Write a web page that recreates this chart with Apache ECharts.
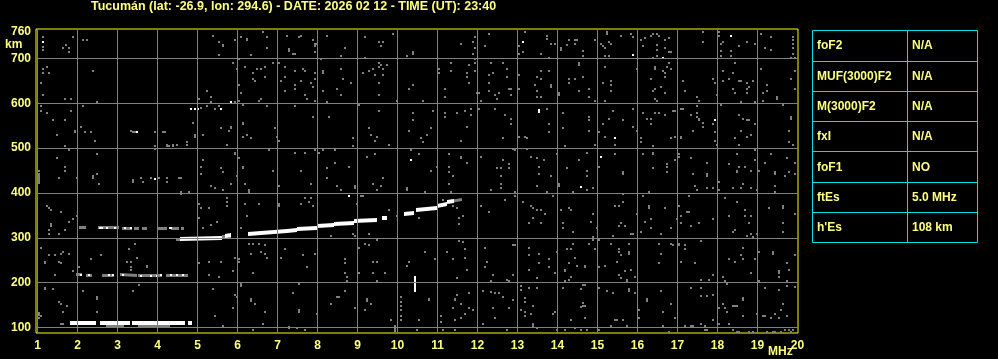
<!DOCTYPE html>
<html><head><meta charset="utf-8">
<script src="https://cdn.jsdelivr.net/npm/echarts@6/dist/echarts.min.js"></script>
<style>html,body{margin:0;padding:0;background:#000;}#c{width:998px;height:359px;}</style>
</head><body><div id="c"></div>
<script>
// ---------- DATA ----------
const titleText = "Tucumán (lat: -26.9, lon: 294.6) - DATE: 2026 02 12 - TIME (UT): 23:40";
const freqTicks = [1,2,3,4,5,6,7,8,9,10,11,12,13,14,15,16,17,18,19,20];
const freqGrid = [1,2,3,4,5,6,7,8,9,10,11,12,13,14,15,16,17,18,19];
const heightTicks = [100,200,300,400,500,600,700,760];
const heightGrid = [100,200,300,400,500,600,700];
const paramNames = ["foF2","MUF(3000)F2","M(3000)F2","fxI","foF1","ftEs","h'Es"];
const paramValues = ["N/A","N/A","N/A","N/A","NO","5.0 MHz","108 km"];

// Es first hop (strong, white) : [f1, km1, f2, km2]
const esStrong = [[1.82,110,2.47,110],[2.57,110,3.32,110],[3.37,110,4.69,110],[4.77,110,4.87,110]];
// F-layer trace (strong, white)
const fStrong = [[4.57,297,5.62,300],[5.69,305,5.84,306],[6.27,309,7.24,315],[7.24,316,7.49,318],[7.49,320,7.99,322],
  [7.99,326,8.40,328],[8.40,331,8.90,333],[8.90,337,9.49,340],[9.62,344,9.74,344],[10.17,353,10.42,356],
  [10.47,361,10.99,366],[10.99,371,11.24,375],[11.24,380,11.42,383]];
// weaker echoes (gray) : multiple hops and traces' edges
const weakTraces = [[2.72,104,3.17,104],[3.52,104,4.30,104],
  [1.97,218,2.12,218],[2.22,217,2.37,217],[2.62,217,2.92,217],[3.07,218,3.49,216],[3.52,215,4.12,215],[4.22,216,4.77,217],
  [2.04,322,2.22,322],[2.52,322,3.04,322],[3.12,321,3.36,321],[3.42,321,3.54,321],[3.62,321,3.74,321],[3.99,321,4.24,321],[4.34,321,4.54,321],[4.59,321,4.67,321],
  [4.47,296,4.57,296],[5.62,302,5.84,303],[7.32,317,7.49,317],[11.30,382,11.60,386]];
// vertical echoes [f, km1, km2]
const vStrong = [[10.44,179,215]];
const vWeak = [[9.94,89,105],[1.04,420,445]];
// isolated white echoes
const whiteDots = [[2.09,217],[2.29,217],[2.79,217],[2.89,216],[3.14,216],[3.59,214],[3.84,215],[3.99,215],[4.09,217],[4.34,217],[4.49,218],[4.64,218],
  [2.57,321],[2.62,321],[2.74,321],[2.94,321],[3.19,321],[3.34,322],[4.30,322],[4.34,322],
  [1.14,737],[3.49,535],[3.94,431],[4.84,588],[4.94,588],[5.00,588],[5.59,588],[5.84,603],
  [13.14,737],[13.54,585],[13.54,581],[10.34,473],[8.79,394],
  [15.89,707],[16.64,701],[18.34,751],[15.44,522],[15.09,481],[17.94,562],[14.59,414]];
// background noise (gray)
const noiseA = [[1.14,747],[1.14,726],[1.14,720],[1.89,747],[2.14,741],[2.24,741],[1.70,729],[1.64,724],[1.79,723],[1.79,714],[5.39,751],[5.54,736],[5.64,730],[5.64,727],[5.54,707],[5.94,741],[6.09,747],[6.24,744],[6.24,741],[6.64,759],[6.74,747],[6.74,723],[6.34,707],[7.24,751],[7.29,722],[7.29,716],[6.04,699],[5.89,690],[5.99,676],[6.19,682],[6.39,668],[6.49,677],[6.59,677],[6.69,680],[6.69,659],[6.39,655],[6.44,650],[6.89,690],[7.04,690],[7.19,682],[7.19,659],[7.09,650],[7.19,628],[6.04,642],[6.09,624],[1.14,677],[1.14,667],[1.24,682],[1.29,668],[1.09,646],[1.14,619],[2.39,673],[1.69,610],[1.84,610],[2.49,602],[5.24,628],[5.34,615],[5.04,610],[5.34,602],[5.24,593],[5.09,590],[5.44,588],[5.54,593],[5.94,602],[6.04,606],[6.14,596],[6.54,606],[6.59,610],[6.74,593],[1.09,593],[1.09,584],[1.24,579],[1.39,562],[1.69,562],[1.84,584],[2.14,593],[1.49,530],[1.94,539],[1.94,535],[2.09,548],[2.19,535],[2.34,535],[2.44,517],[3.34,539],[3.39,535],[3.44,535],[3.94,535],[4.14,535],[4.19,535],[4.89,557],[5.14,530],[4.94,530],[4.94,526],[5.59,544],[5.79,539],[5.84,548],[5.84,544],[6.14,557],[6.14,553],[6.24,530],[6.34,522],[6.14,526],[6.94,544],[6.99,526],[7.04,517],[3.94,504],[3.94,499],[4.24,508],[4.24,504],[4.29,504],[4.39,508],[4.39,504],[4.49,508],[4.74,513],[4.74,508],[5.74,508],[1.69,504],[1.79,495],[1.49,477],[2.49,486],[1.69,459],[1.69,450],[2.39,437],[2.39,433],[2.49,442],[1.04,450],[1.54,433],[1.99,433],[5.14,473],[5.09,459],[5.09,442],[5.59,455],[5.64,446],[5.94,490],[5.94,486],[6.04,477],[6.14,459],[6.14,455],[6.79,495],[6.89,450],[3.39,430],[3.59,433],[3.84,433],[4.04,433],[4.24,433],[4.54,433],[4.59,433],[5.99,437]];
const noiseB = [[7.39,710],[7.44,710],[7.54,747],[7.59,751],[7.89,741],[7.94,732],[7.94,727],[7.99,733],[7.94,714],[8.24,751],[8.59,705],[8.69,723],[8.09,699],[9.19,747],[9.54,736],[9.64,736],[9.59,727],[9.19,701],[9.89,754],[10.24,705],[10.39,714],[10.39,710],[11.59,732],[11.89,736],[11.94,747],[11.94,723],[11.89,710],[11.94,699],[12.19,727],[12.29,754],[13.04,727],[13.14,714],[13.04,710],[13.19,759],[13.59,710],
  [7.44,673],[7.64,677],[7.69,673],[7.94,668],[7.44,642],[7.44,633],[7.59,650],[7.84,646],[7.89,637],[7.69,619],[7.74,610],[7.94,655],[7.94,606],[8.14,673],[8.14,668],[8.14,628],[8.59,677],[8.64,655],[8.49,633],[8.59,619],[8.84,646],[8.24,602],[9.14,668],[9.29,673],[9.39,677],[9.54,690],[9.54,682],[9.59,686],[9.64,677],[9.74,686],[9.44,664],[9.64,664],[9.54,646],[9.54,619],[9.99,606],[10.39,642],[10.29,633],[10.64,606],[11.04,677],[11.04,668],[11.34,690],[11.34,673],[11.19,633],[11.19,615],[11.74,668],[11.79,686],[11.79,646],[11.74,659],[11.94,690],[11.94,673],[11.99,624],[12.04,624],[12.09,606],[12.34,690],[12.39,668],[12.29,664],[12.29,646],[12.29,628],[12.44,619],[12.54,624],[12.49,610],[12.64,690],[12.74,677],[12.74,659],[12.79,633],[12.84,633],[12.84,619],[13.04,664],[13.04,633],[13.49,659],[13.44,642],[13.49,628],[13.59,673],[13.59,655],[13.59,615],[13.49,615],
  [7.44,593],[7.89,570],[8.29,570],[9.04,597],[9.54,584],[9.29,544],[9.34,530],[9.49,526],[9.44,517],[9.79,508],[8.89,522],[8.89,504],[10.39,579],[10.39,562],[10.29,539],[10.84,544],[10.89,584],[10.74,530],[10.59,522],[10.64,513],[11.19,579],[11.19,570],[11.49,579],[11.69,584],[11.84,588],[11.84,575],[11.74,548],[11.59,517],[12.04,588],[12.44,588],[12.69,575],[12.84,566],[12.84,553],[12.64,522],[13.04,526],[13.19,526],[13.24,522],
  [7.44,490],[7.69,490],[7.94,495],[8.04,490],[8.14,495],[8.44,495],[8.44,468],[8.24,455],[8.79,459],[7.59,450],[8.24,433],[9.24,481],[9.44,486],[9.64,433],[10.34,495],[10.54,486],[10.84,450],[10.99,459],[11.29,486],[11.59,481],[11.59,477],[11.74,468],[11.29,459],[11.29,446],[11.39,437],[12.09,481],[12.64,473],[12.49,455],[12.59,455],[12.59,437],[12.79,464],[12.79,455],[12.89,499],[12.94,495],[13.24,499],[13.34,481],[13.49,477],[13.54,459],[13.54,442]];
const noiseC = [[13.74,751],[13.74,744],[13.84,733],[13.94,733],[14.09,724],[14.09,720],[14.24,729],[14.29,741],[14.44,741],[14.49,741],[14.44,733],[14.64,716],[14.64,705],[14.94,741],[13.79,701],[15.24,759],[15.24,754],[15.09,733],[15.14,727],[15.19,724],[15.29,736],[15.34,733],[15.19,705],[15.29,705],[15.59,751],[15.84,754],[15.89,747],[16.09,741],[16.19,745],[16.34,751],[16.39,754],[16.49,754],[16.54,751],[16.49,729],[16.49,720],[16.69,741],[16.79,745],[16.69,723],[16.79,714],[16.84,714],[16.49,705],[16.39,701],[16.14,727],[17.64,759],[17.64,736],[18.04,759],[18.04,751],[18.09,732],[18.09,716],[18.09,705],[18.14,736],[18.34,716],[18.34,705],[18.54,727],[18.74,736],[18.94,732],[19.09,754],[19.19,723],[19.34,747],[19.34,719],[19.89,748],[19.89,741],[19.89,733],[19.89,724],[19.89,711],[19.84,701],[19.94,701],
  [14.54,690],[14.54,686],[13.79,673],[14.29,655],[14.29,646],[14.44,655],[14.64,659],[13.84,642],[13.84,637],[14.04,624],[14.04,619],[14.54,628],[14.79,633],[14.79,615],[14.94,606],[15.19,682],[15.14,646],[15.34,650],[15.34,642],[15.34,628],[15.19,606],[15.99,677],[16.44,682],[16.44,677],[16.64,673],[16.69,668],[16.69,659],[16.74,682],[16.79,690],[16.84,677],[16.34,655],[16.44,633],[16.39,628],[16.59,637],[16.69,624],[16.44,610],[16.49,606],[17.14,650],[17.19,628],[17.49,615],[17.54,606],[17.89,655],[17.94,646],[17.99,619],[18.14,673],[18.14,650],[18.29,655],[18.44,690],[18.39,668],[18.54,650],[18.59,650],[18.74,646],[18.89,650],[18.39,633],[18.44,624],[18.74,633],[18.74,624],[18.79,637],[19.09,677],[19.24,642],[19.24,628],[19.14,624],[19.49,615],[19.49,610],[19.84,655],[19.94,673],[19.94,633],[19.14,606],[18.59,602],[18.94,602],
  [13.74,588],[13.79,553],[13.79,535],[14.14,579],[14.14,544],[14.79,570],[14.79,562],[14.79,539],[14.94,508],[14.19,504],[15.39,584],[15.29,566],[15.14,553],[15.04,535],[15.19,526],[15.44,508],[15.64,562],[15.89,588],[15.89,548],[15.99,539],[16.14,579],[16.24,566],[16.34,566],[16.34,553],[16.44,579],[16.54,579],[16.69,575],[16.89,584],[16.94,584],[17.09,588],[17.14,588],[17.34,575],[17.49,593],[17.49,579],[17.49,570],[17.54,566],[17.54,562],[17.64,557],[17.64,548],[17.39,539],[17.09,526],[17.09,522],[16.84,522],[16.94,526],[16.09,522],[16.09,513],[16.39,504],[17.89,553],[17.94,535],[17.94,517],[17.99,508],[18.09,597],[18.54,575],[18.64,566],[18.74,562],[18.79,562],[18.59,539],[18.74,526],[18.44,522],[18.54,508],[18.84,530],[18.94,553],[19.64,597],[19.84,570],[19.84,566],[19.79,539],[19.79,513],[19.89,508],
  [13.67,473],[13.99,486],[13.84,437],[14.24,455],[14.54,473],[14.74,490],[14.74,450],[14.74,437],[15.04,459],[15.44,486],[15.64,446],[15.64,442],[16.14,486],[16.39,490],[16.39,486],[16.39,455],[16.74,464],[16.74,459],[16.74,446],[16.94,473],[17.04,486],[17.04,481],[17.34,477],[17.74,468],[17.74,442],[17.74,437],[17.39,442],[18.29,464],[18.49,486],[18.49,450],[18.49,446],[18.54,459],[18.69,459],[18.84,450],[18.94,495],[18.94,473],[19.19,468],[19.34,486],[19.44,446],[19.44,442],[19.74,477],[19.79,446],[19.94,468],[19.94,442],[19.69,437],[19.04,450]];
const noiseD = [[2.54,421],[3.39,425],[3.64,425],[4.24,425],[5.34,416],[5.44,412],[5.64,407],[5.84,421],[6.19,421],[6.29,407],[6.29,403],[7.04,416],[4.59,403],[4.59,398],[4.79,403],[5.74,389],[5.74,381],[5.74,372],[5.04,376],[5.09,367],[5.29,367],[6.54,376],[6.19,376],[6.24,348],[7.04,376],[7.04,372],[1.24,372],[1.29,367],[1.34,363],[1.59,358],[1.99,349],[1.89,341],[1.79,336],[1.34,330],[1.34,326],[1.29,317],[1.29,308],[1.54,308],[1.69,317],[5.04,345],[5.14,321],[5.34,329],[5.49,336],[6.09,323],[1.09,278],[1.29,261],[1.44,261],[1.59,265],[1.64,269],[1.79,265],[1.19,247],[1.19,243],[1.54,247],[1.59,243],[2.34,252],[2.59,261],[3.44,287],[3.29,274],[3.49,256],[3.24,247],[3.34,247],[3.74,238],[3.74,234],[3.34,234],[3.34,228],[2.04,234],[1.89,225],[1.44,216],[5.04,243],[5.29,247],[5.59,247],[5.94,256],[6.04,252],[6.04,247],[6.29,287],[6.39,287],[6.54,287],[6.69,283],[6.59,269],[6.69,265],[6.74,256],[6.34,265],[7.09,256],[7.19,274],[6.39,221],[5.89,225],[5.29,216],[5.54,212],[1.19,189],[1.19,185],[1.39,185],[2.14,181],[2.49,167],[2.49,163],[1.54,157],[1.59,152],[1.74,148],[1.64,135],[2.49,135],[1.04,132],[1.04,127],[1.09,126],[1.04,122],[1.59,108],[1.64,108],[3.39,181],[3.54,194],[5.39,185],[5.94,172],[5.99,167],[6.34,163],[6.34,160],[6.44,152],[5.89,144],[5.44,126],[5.64,104],[6.09,197],[6.09,192],[6.69,135],[6.64,108],[7.29,102],[7.29,99],[6.39,95]];
const noiseE = [[7.84,421],[8.49,416],[8.59,407],[8.94,416],[8.94,412],[9.39,421],[9.49,407],[9.59,416],[10.24,412],[10.24,407],[10.69,403],[11.29,421],[11.34,403],[12.59,421],[12.59,412],[12.34,407],[12.94,403],[12.94,394],[13.49,416],[7.69,389],[7.84,389],[7.79,381],[7.59,376],[7.89,372],[9.14,394],[9.09,394],[8.99,376],[9.79,363],[9.99,349],[10.54,345],[11.14,385],[11.39,372],[11.49,367],[11.54,345],[11.64,349],[11.54,330],[12.09,372],[12.29,358],[12.69,385],[13.14,381],[13.34,372],[13.39,367],[13.49,363],[13.59,363],[13.39,345],[13.29,332],[13.59,332],[8.89,309],[8.94,305],[8.34,305],[9.29,309],[9.49,295],[9.19,287],[9.29,283],[9.04,277],[7.64,261],[7.94,265],[8.69,252],[8.69,243],[7.74,234],[8.69,221],[8.74,212],[8.74,203],[9.04,221],[9.39,247],[9.49,247],[9.39,221],[9.69,221],[9.49,203],[10.29,247],[10.24,238],[10.69,269],[10.94,252],[11.24,269],[11.54,292],[11.64,290],[11.69,274],[11.69,256],[11.39,252],[11.74,229],[11.49,210],[12.19,277],[12.24,247],[12.19,234],[12.39,216],[12.34,203],[12.74,207],[12.79,203],[12.89,283],[12.94,283],[12.89,216],[13.29,278],[13.29,261],[13.54,265],[13.54,243],[13.29,229],[13.49,210],[7.54,198],[7.39,176],[8.69,181],[8.49,167],[8.54,167],[9.24,163],[9.24,158],[9.34,152],[8.34,152],[8.94,144],[9.19,139],[7.54,139],[7.54,135],[7.99,130],[7.69,95],[7.49,99],[9.84,117],[10.09,167],[10.09,157],[10.09,148],[10.09,139],[10.09,126],[10.09,117],[10.54,117],[10.49,95],[10.79,164],[10.79,161],[11.49,173],[11.44,164],[11.44,161],[11.39,144],[11.59,152],[11.79,144],[11.89,139],[11.69,130],[11.59,121],[11.44,117],[11.09,126],[11.09,112],[11.14,95],[11.44,95],[11.79,176],[12.14,181],[12.34,179],[12.44,176],[12.54,176],[12.64,167],[12.39,144],[12.14,108],[12.44,121],[12.79,144],[12.89,161],[13.09,192],[13.09,184],[13.29,189],[13.49,188],[13.19,166],[13.19,157],[13.09,139],[13.19,135],[13.34,130],[13.39,148],[13.19,126],[13.39,108],[13.39,104],[13.49,99],[12.74,95]];
const noiseF = [[14.04,421],[14.04,416],[14.74,407],[14.89,412],[13.74,403],[13.89,394],[14.39,403],[15.64,398],[15.64,381],[15.44,372],[15.54,372],[16.14,394],[16.29,403],[16.29,372],[16.29,367],[16.69,367],[17.04,372],[17.29,394],[17.24,358],[17.29,358],[17.09,349],[17.44,416],[17.74,412],[17.49,407],[17.89,412],[18.04,425],[18.04,407],[18.19,389],[18.39,412],[18.59,412],[18.64,421],[18.84,412],[18.99,407],[19.44,416],[19.44,403],[19.64,367],[19.64,372],[19.29,367],[18.49,381],[18.29,349],[18.69,349],[18.84,349],[18.79,332],[18.44,318],[18.39,314],[18.74,305],[18.84,309],[18.89,301],[18.99,309],[18.69,363],[19.64,332],[19.64,314],[19.94,354],[14.09,363],[14.29,367],[14.34,363],[14.14,332],[14.14,323],[14.39,314],[13.69,354],[14.89,354],[14.84,336],[14.99,323],[14.89,301],[14.89,296],[15.39,305],[15.54,326],[15.59,332],[15.69,327],[15.84,309],[15.89,309],[15.99,354],[16.09,314],[16.19,336],[16.34,341],[16.34,323],[16.59,309],[16.84,323],[16.99,341],[17.09,332],[17.34,327],[17.54,332],[17.89,341],[15.34,287],[14.79,287],[15.04,296],[14.39,287],[15.79,287],[14.94,274],[15.54,274],[15.54,269],[15.59,261],[15.79,269],[15.79,265],[15.84,229],[15.69,225],[15.54,216],[15.59,210],[15.74,206],[15.74,201],[15.94,212],[13.79,252],[13.79,234],[13.99,269],[14.24,274],[14.34,274],[14.44,256],[14.29,243],[14.19,229],[14.19,225],[13.94,221],[14.34,212],[14.29,207],[14.19,203],[14.49,238],[14.69,238],[14.69,234],[15.04,234],[15.19,238],[15.49,247],[16.54,287],[16.59,265],[16.54,243],[16.84,287],[16.89,283],[17.04,287],[17.04,283],[17.09,247],[17.19,283],[17.19,274],[17.44,243],[17.59,292],[17.59,207],[17.79,207],[17.89,216],[18.14,212],[18.19,203],[18.29,252],[18.44,247],[18.59,261],[18.64,252],[18.64,278],[18.84,221],[18.94,252],[19.04,269],[19.04,203],[19.39,269],[19.39,265],[19.54,225],[19.54,221],[19.54,212],[19.74,243],[19.74,203],[19.79,229],[19.94,261],[14.14,189],[14.59,185],[14.64,194],[14.69,194],[14.59,145],[14.64,154],[14.64,149],[14.69,148],[14.69,121],[14.34,117],[13.94,135],[13.89,130],[13.99,95],[14.19,95],[14.44,99],[14.59,95],[14.74,95],[15.04,189],[15.24,181],[15.39,176],[15.79,185],[15.79,181],[15.94,176],[15.44,117],[15.49,117],[15.64,117],[15.74,104],[15.34,104],[15.04,95],[16.04,139],[16.04,121],[16.24,164],[16.24,158],[16.59,181],[16.84,152],[16.64,135],[16.94,121],[16.64,104],[16.79,90],[17.19,104],[17.34,104],[17.39,104],[17.59,108],[17.69,104],[17.69,95],[17.74,95],[17.34,189],[17.59,189],[17.59,170],[17.74,170],[17.89,173],[18.24,197],[18.14,152],[18.19,144],[18.24,135],[18.04,144],[18.39,148],[18.44,148],[18.49,148],[18.64,166],[18.64,161],[18.64,126],[17.89,117],[18.04,108],[18.29,108],[18.39,95],[18.99,130],[19.14,126],[19.19,126],[19.34,121],[19.44,130],[19.59,139],[19.64,152],[19.54,121],[19.74,126],[19.79,95],[19.19,189],[19.54,184],[19.74,192],[19.94,191],[19.89,95],[19.69,95],[18.49,90],[18.54,90],[18.79,90],[18.89,90],[19.24,90],[19.39,90],[19.44,90],[19.59,90],[19.84,90]];

// ---------- CHART ----------
const YEL = '#ffff80', FRAME = '#ffff00', GRAY = '#808080', CYAN = '#00e0e0';
const FONT = '"Liberation Sans", Arial, sans-serif';
const chart = echarts.init(document.getElementById('c'), null, {renderer:'canvas'});

// pixel-snapped dots (2x2 cells like the ionogram raster)
function dotSeries(data, color, z){
  return {type:'custom', z:z, silent:true, animation:false, clip:true,
    encode:{x:0, y:1}, data:data,
    renderItem:function(params, api){
      const p = api.coord([api.value(0), api.value(1)]);
      return {type:'rect', shape:{x:Math.round(p[0])-1, y:Math.round(p[1])-1, width:2, height:2},
        style:{fill:color}};
    }};
}
// thick sloped segments [f1,km1,f2,km2]
function segSeries(data, color, thick, z){
  return {type:'custom', z:z, silent:true, animation:false, clip:true,
    encode:{x:[0,2], y:[1,3]}, data:data,
    renderItem:function(params, api){
      const p1 = api.coord([api.value(0), api.value(1)]);
      const p2 = api.coord([api.value(2), api.value(3)]);
      const x1 = Math.round(p1[0]), x2 = Math.round(p2[0]);
      const y1 = Math.round(p1[1] - thick/2), y2 = Math.round(p2[1] - thick/2);
      return {type:'polygon', shape:{points:[[x1,y1],[x2,y2],[x2,y2+thick],[x1,y1+thick]]},
        style:{fill:color}};
    }};
}
// vertical echoes [f, km1, km2]
function vSeries(data, color, z){
  return {type:'custom', z:z, silent:true, animation:false, clip:true,
    encode:{x:0, y:[1,2]}, data:data,
    renderItem:function(params, api){
      const p1 = api.coord([api.value(0), api.value(2)]);
      const p2 = api.coord([api.value(0), api.value(1)]);
      return {type:'rect', shape:{x:Math.round(p1[0])-1, y:Math.round(p1[1]), width:2, height:Math.round(p2[1]-p1[1])},
        style:{fill:color}};
    }};
}

const rowTops = [30, 62, 92, 122, 152, 183, 213, 243];
const tableGraphics = [];
tableGraphics.push({type:'rect', shape:{x:812.5,y:30.5,width:165,height:212}, style:{fill:'none',stroke:CYAN,lineWidth:1}});
tableGraphics.push({type:'line', shape:{x1:907.5,y1:30.5,x2:907.5,y2:242.5}, style:{stroke:CYAN,lineWidth:1}});
for (let i=1;i<7;i++){
  tableGraphics.push({type:'line', shape:{x1:812.5,y1:rowTops[i]-0.5,x2:977.5,y2:rowTops[i]-0.5}, style:{stroke:CYAN,lineWidth:1}});
}
for (let i=0;i<7;i++){
  const cy = (rowTops[i]+rowTops[i+1])/2;
  tableGraphics.push({type:'text', x:817, y:cy, style:{text:paramNames[i], fill:YEL, font:'bold 12px '+FONT, textVerticalAlign:'middle'}});
  tableGraphics.push({type:'text', x:912, y:cy, style:{text:paramValues[i], fill:YEL, font:'bold 12px '+FONT, textVerticalAlign:'middle'}});
}

const option = {
  backgroundColor:'#000',
  animation:false,
  grid:{left:36, top:29, width:762, height:304, show:true, borderColor:FRAME, borderWidth:1, backgroundColor:'#000', containLabel:false},
  xAxis:{type:'value', min:0.9625, max:20.0125,
    axisLine:{show:false}, axisTick:{show:false}, splitLine:{show:false},
    axisLabel:{customValues:freqTicks, color:YEL, fontWeight:'bold', fontSize:12, fontFamily:FONT, margin:7, showMinLabel:true, showMaxLabel:true}},
  yAxis:{type:'value', min:87.73, max:765.8,
    axisLine:{show:false}, axisTick:{show:false}, splitLine:{show:false},
    axisLabel:{customValues:heightTicks, color:YEL, fontWeight:'bold', fontSize:12, fontFamily:FONT, margin:5, showMinLabel:true, showMaxLabel:true}},
  graphic:[
    {type:'text', left:91, top:0, style:{text:titleText, fill:YEL, font:'bold 12.5px '+FONT}},
    {type:'text', left:5, top:39, style:{text:'km', fill:YEL, font:'bold 12px '+FONT}},
    {type:'text', left:768, top:346, style:{text:'MHz', fill:YEL, font:'bold 12px '+FONT}},
    {type:'group', children:tableGraphics}
  ],
  series:[
    {type:'scatter', z:0, silent:true, symbolSize:0, data:[],
      markLine:{silent:true, symbol:['none','none'], label:{show:false}, animation:false,
        lineStyle:{color:GRAY, width:1, type:'solid'},
        data:freqGrid.map(v=>({xAxis:v})).concat(heightGrid.map(v=>({yAxis:v})))}},
    dotSeries([].concat(noiseA,noiseB,noiseC,noiseD,noiseE,noiseF), GRAY, 1),
    segSeries(weakTraces, GRAY, 3, 2),
    vSeries(vWeak, GRAY, 2),
    segSeries(esStrong, '#ffffff', 4, 3),
    segSeries(fStrong, '#ffffff', 4, 3),
    vSeries(vStrong, '#ffffff', 3),
    dotSeries(whiteDots, '#ffffff', 4)
  ]
};
chart.setOption(option);
</script>
</body></html>
